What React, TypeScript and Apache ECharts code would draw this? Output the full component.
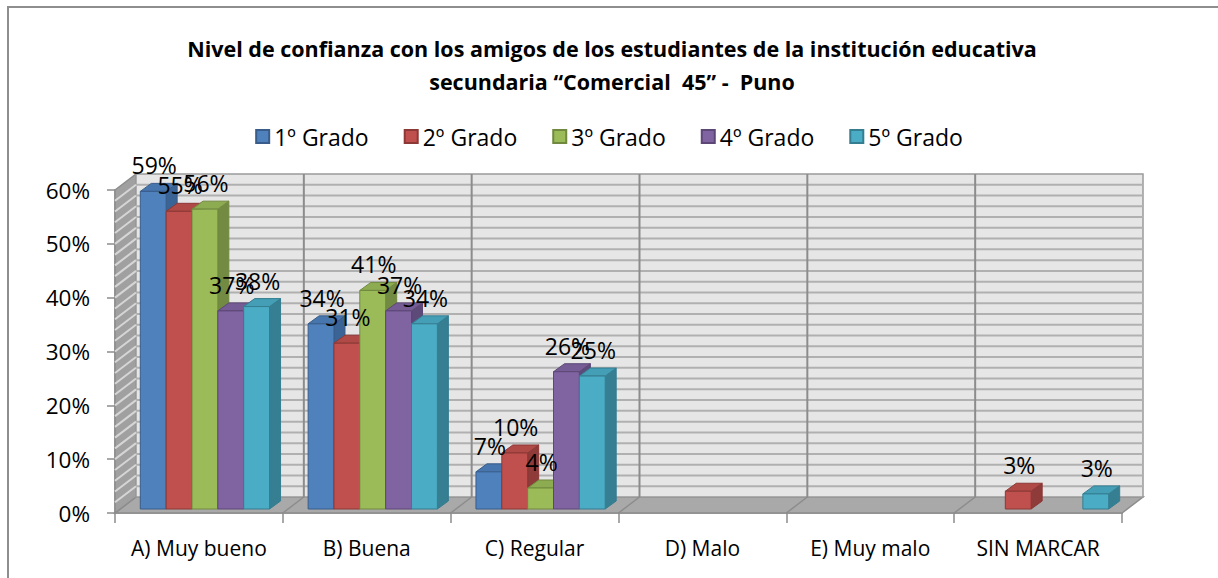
import React, { useEffect, useRef } from 'react';
import * as echarts from 'echarts';

const categories = ['A) Muy bueno', 'B) Buena', 'C) Regular', 'D) Malo', 'E) Muy malo', 'SIN MARCAR'];
const seriesNames = ['1º Grado', '2º Grado', '3º Grado', '4º Grado', '5º Grado'];
const grado1 = [0.59, 0.344, 0.069, null, null, null];
const grado2 = [0.553, 0.308, 0.104, null, null, 0.033];
const grado3 = [0.557, 0.406, 0.039, null, null, null];
const grado4 = [0.368, 0.368, 0.255, null, null, null];
const grado5 = [0.376, 0.344, 0.247, null, null, 0.028];
const seriesValues = [grado1, grado2, grado3, grado4, grado5];
const yMax = 0.6;
const yStep = 0.1;
const gridStep = 0.02;

const titleText = 'Nivel de confianza con los amigos de los estudiantes de la institución educativa\nsecundaria “Comercial  45” -  Puno';

const frontColors = ['#4f81bd', '#c0504d', '#9bbb59', '#8064a2', '#4bacc6'];
const sideColors = ['#3b6496', '#8e3b39', '#728a41', '#5e4a78', '#367f93'];
const topColors = ['#4775ad', '#b04a47', '#8dab51', '#755c95', '#449eb6'];
const edgeColors = ['#385d8a', '#8c3836', '#71893f', '#5c4776', '#357d91'];

const FONT = '"Open Sans", "Noto Sans", sans-serif';
const DEPTH_X = 21;
const DEPTH_Y = -16;
const BAR_DX = 11;
const BAR_DY = -8;
const BAR_SHIFT_X = 6;
const BAR_SHIFT_Y = -4;
const BAR_FRAC = 0.154;

const pct = (v: number) => Math.round(v * 100) + '%';

function barRenderer(s: number) {
  return (params: any, api: any) => {
    const v = api.value(1);
    if (v == null || isNaN(v)) return null;
    const cat = api.value(0);
    const base = api.coord([cat, 0]);
    const top = api.coord([cat, v]);
    const bw = api.size([1, 0])[0];
    const w = bw * BAR_FRAC;
    const x0 = base[0] - 2.5 * w + s * w + BAR_SHIFT_X;
    const x1 = x0 + w;
    const yb = base[1] + BAR_SHIFT_Y;
    const yt = top[1] + BAR_SHIFT_Y;
    return {
      type: 'group',
      children: [
        {
          type: 'polygon',
          z2: s * 10 + 1,
          shape: { points: [[x1, yb], [x1, yt], [x1 + BAR_DX, yt + BAR_DY], [x1 + BAR_DX, yb + BAR_DY]] },
          style: { fill: sideColors[s], stroke: edgeColors[s], lineWidth: 1 },
        },
        {
          type: 'polygon',
          z2: s * 10 + 2,
          shape: { points: [[x0, yt], [x1, yt], [x1 + BAR_DX, yt + BAR_DY], [x0 + BAR_DX, yt + BAR_DY]] },
          style: { fill: topColors[s], stroke: edgeColors[s], lineWidth: 1 },
        },
        {
          type: 'rect',
          z2: s * 10 + 3,
          shape: { x: x0, y: yt, width: w, height: yb - yt },
          style: { fill: frontColors[s], stroke: edgeColors[s], lineWidth: 1 },
        },
        {
          type: 'text',
          z2: 100,
          style: {
            text: pct(v),
            x: (x0 + x1) / 2 + 1,
            y: yt - 26,
            align: 'center',
            verticalAlign: 'middle',
            fontSize: 23,
            fontFamily: FONT,
            fill: '#000',
          },
        },
      ],
    };
  };
}

function wallRenderer(params: any, api: any) {
  const bw = api.size([1, 0])[0];
  const c0 = api.coord([0, 0]);
  const cN = api.coord([categories.length - 1, 0]);
  const L = c0[0] - bw / 2;
  const R = cN[0] + bw / 2;
  const y0 = c0[1];
  const yT = api.coord([0, yMax])[1];
  const children: any[] = [];
  children.push({
    type: 'polygon',
    shape: { points: [[L, y0], [R, y0], [R + DEPTH_X, y0 + DEPTH_Y], [L + DEPTH_X, y0 + DEPTH_Y]] },
    style: { fill: '#a9a9a9', stroke: '#8c8c8c', lineWidth: 1.5 },
  });
  children.push({
    type: 'polygon',
    shape: { points: [[L, y0], [L, yT], [L + DEPTH_X, yT + DEPTH_Y], [L + DEPTH_X, y0 + DEPTH_Y]] },
    style: { fill: '#a0a0a0', stroke: '#8c8c8c', lineWidth: 1.5 },
  });
  children.push({
    type: 'rect',
    shape: { x: L + DEPTH_X, y: yT + DEPTH_Y, width: R - L, height: y0 - yT },
    style: { fill: '#e6e6e6', stroke: '#9a9a9a', lineWidth: 1.5 },
  });
  const n = Math.round(yMax / gridStep);
  for (let i = 1; i < n; i++) {
    const y = api.coord([0, i * gridStep])[1];
    children.push({
      type: 'line',
      shape: { x1: L + DEPTH_X, y1: y + DEPTH_Y, x2: R + DEPTH_X, y2: y + DEPTH_Y },
      style: { stroke: '#b0b0b0', lineWidth: 2 },
    });
    children.push({
      type: 'line',
      shape: { x1: L, y1: y, x2: L + DEPTH_X, y2: y + DEPTH_Y },
      style: { stroke: '#d6d6d6', lineWidth: 2 },
    });
  }
  for (let k = 1; k < categories.length; k++) {
    const x = L + k * bw;
    children.push({
      type: 'line',
      shape: { x1: x + DEPTH_X, y1: yT + DEPTH_Y, x2: x + DEPTH_X, y2: y0 + DEPTH_Y },
      style: { stroke: '#8c8c8c', lineWidth: 2 },
    });
    children.push({
      type: 'line',
      shape: { x1: x, y1: y0, x2: x + DEPTH_X, y2: y0 + DEPTH_Y },
      style: { stroke: '#8c8c8c', lineWidth: 1.5 },
    });
  }
  return { type: 'group', children };
}

export default function App() {
  const ref = useRef<HTMLDivElement>(null);
  useEffect(() => {
    if (!ref.current) return;
    const chart = echarts.init(ref.current, undefined, { renderer: 'svg' });
    const barSeries = seriesNames.map((name, s) => ({
      name,
      type: 'custom',
      z: 2,
      clip: false,
      itemStyle: { color: frontColors[s], borderColor: edgeColors[s], borderWidth: 1 },
      renderItem: barRenderer(s),
      encode: { x: 0, y: 1 },
      data: seriesValues[s].map((v, i) => [i, v]),
    }));
    chart.setOption({
      animation: false,
      backgroundColor: '#ffffff',
      title: {
        text: titleText,
        left: 607,
        top: 27,
        textAlign: 'center',
        textStyle: { fontSize: 21.5, fontWeight: 'bold', fontFamily: FONT, color: '#000', lineHeight: 33 },
      },
      legend: {
        data: seriesNames,
        left: 'center',
        top: 120,
        icon: 'rect',
        itemWidth: 13,
        itemHeight: 13,
        itemGap: 35,
        textStyle: { fontSize: 23, fontFamily: FONT, color: '#000' },
      },
      grid: { left: 115, right: 96, top: 190, bottom: 65, containLabel: false },
      xAxis: {
        type: 'category',
        data: categories,
        boundaryGap: true,
        axisLine: { show: true, lineStyle: { color: '#8c8c8c', width: 1.5 } },
        axisTick: { show: true, interval: 0, length: 10, lineStyle: { color: '#8c8c8c', width: 1.5 } },
        axisLabel: { interval: 0, margin: 24, fontSize: 21, fontFamily: FONT, color: '#000' },
        splitLine: { show: false },
      },
      yAxis: {
        type: 'value',
        min: 0,
        max: yMax,
        interval: yStep,
        axisLine: { show: true, lineStyle: { color: '#8c8c8c', width: 1.5 } },
        axisTick: { show: true, length: 8, lineStyle: { color: '#8c8c8c', width: 1.5 } },
        axisLabel: { margin: 25, fontSize: 22.5, fontFamily: FONT, color: '#000', formatter: (v: number) => pct(v) },
        splitLine: { show: false },
      },
      graphic: [
        {
          type: 'line',
          shape: { x1: 7, y1: 7, x2: 1218, y2: 7 },
          style: { stroke: '#8e8e8e', lineWidth: 2 },
          silent: true,
        },
        {
          type: 'line',
          shape: { x1: 8, y1: 7, x2: 8, y2: 578 },
          style: { stroke: '#8e8e8e', lineWidth: 2 },
          silent: true,
        },
      ],
      series: [
        {
          name: 'walls',
          type: 'custom',
          z: 1,
          clip: false,
          silent: true,
          renderItem: wallRenderer,
          encode: { x: 0, y: 1 },
          data: [[0, 0]],
        },
        ...barSeries,
      ],
    });
    return () => chart.dispose();
  }, []);
  return <div ref={ref} style={{ position: 'fixed', left: 0, top: 0, width: 1218, height: 578 }} />;
}
